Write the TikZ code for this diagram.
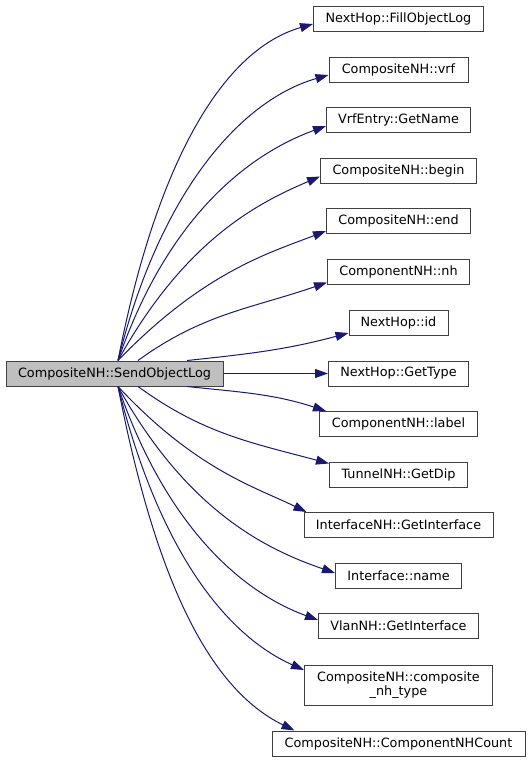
\documentclass[tikz,border=0pt]{standalone}
\usepackage{fontspec}
\setmainfont{DejaVu Sans}
\usetikzlibrary{arrows.meta}
\definecolor{edgeblue}{HTML}{191970}
\definecolor{boxborder}{HTML}{404040}
\definecolor{srcfill}{HTML}{BFBFBF}
\begin{document}
\begin{tikzpicture}[x=1pt,y=1pt,
  fn/.style={draw=boxborder, line width=1pt, fill=white, inner sep=0pt,
    minimum height=25pt, align=center,
    font=\fontsize{12.8}{14.5}\selectfont, text=black},
  call/.style={draw=edgeblue, line width=1pt,
    -{Triangle[length=13pt,width=9pt]}},
  steep/.style={call, out looseness=1.28, in looseness=0.64},
  flat/.style={call, looseness=1}
]
\useasboundingbox (0,0) rectangle (531,-763);
% caller
\node[fn, fill=srcfill, minimum width=217pt] (src) at (114.5,-373.5) {CompositeNH::SendObjectLog};
% callees
\node[fn, minimum width=170pt] (n1)  at (398.5,-18.5)  {NextHop::FillObjectLog};
\node[fn, minimum width=139pt] (n2)  at (398.5,-69.5)  {CompositeNH::vrf};
\node[fn, minimum width=144pt] (n3)  at (398.5,-120)   {VrfEntry::GetName};
\node[fn, minimum width=156pt] (n4)  at (398.5,-170.5) {CompositeNH::begin};
\node[fn, minimum width=144pt] (n5)  at (398.5,-221)   {CompositeNH::end};
\node[fn, minimum width=142pt] (n6)  at (398.5,-271.5) {ComponentNH::nh};
\node[fn, minimum width=99pt]  (n7)  at (398.5,-322.5) {NextHop::id};
\node[fn, minimum width=140pt] (n8)  at (398.5,-373.5) {NextHop::GetType};
\node[fn, minimum width=158pt] (n9)  at (398.5,-424)   {ComponentNH::label};
\node[fn, minimum width=138pt] (n10) at (398.5,-474.5) {TunnelNH::GetDip};
\node[fn, minimum width=189pt] (n11) at (398.5,-525)   {InterfaceNH::GetInterface};
\node[fn, minimum width=126pt] (n12) at (398.5,-575.5) {Interface::name};
\node[fn, minimum width=160pt] (n13) at (398.5,-626)   {VlanNH::GetInterface};
\node[fn, minimum width=188pt, minimum height=40pt] (n14) at (398.5,-685) {CompositeNH::composite\\\_nh\_type};
\node[fn, minimum width=253pt] (n15) at (398.5,-743.5) {CompositeNH::ComponentNHCount};
% calls
\draw[steep] ([xshift=3.5pt]src.north) to[out=79,in=196] ([yshift=-5.5pt]n1.west);
\draw[steep] ([xshift=3.5pt]src.north) to[out=76,in=196] ([yshift=-5.5pt]n2.west);
\draw[steep] ([xshift=3.5pt]src.north) to[out=71,in=200] ([yshift=-6pt]n3.west);
\draw[steep] ([xshift=3.5pt]src.north) to[out=61,in=203] ([yshift=-6pt]n4.west);
\draw[steep] ([xshift=3.5pt]src.north) to[out=46,in=201] ([yshift=-10pt]n5.west);
\draw[flat]  ([xshift=23.5pt]src.north) to[out=36,in=199] ([yshift=-11pt]n6.west);
\draw[flat]  ([xshift=72.5pt]src.north) to[out=6,in=195] ([yshift=-10.5pt]n7.west);
\draw[call]  (src.east) -- (n8.west);
\draw[flat]  ([xshift=72.5pt]src.south) to[out=-6,in=162] ([xshift=7pt]n9.north west);
\draw[flat]  ([xshift=23.5pt]src.south) to[out=-36,in=165] ([yshift=-2pt]n10.north west);
\draw[steep] ([xshift=3.5pt]src.south) to[out=-47,in=154] ([xshift=3pt]n11.north west);
\draw[steep] ([xshift=3.5pt]src.south) to[out=-61,in=161] ([yshift=2.5pt]n12.west);
\draw[steep] ([xshift=3.5pt]src.south) to[out=-71,in=160] ([yshift=6pt]n13.west);
\draw[steep] ([xshift=3.5pt]src.south) to[out=-76,in=156] ([yshift=15pt]n14.west);
\draw[steep] ([xshift=3.5pt]src.south) to[out=-79,in=154] ([xshift=23pt]n15.north west);
\end{tikzpicture}
\end{document}
